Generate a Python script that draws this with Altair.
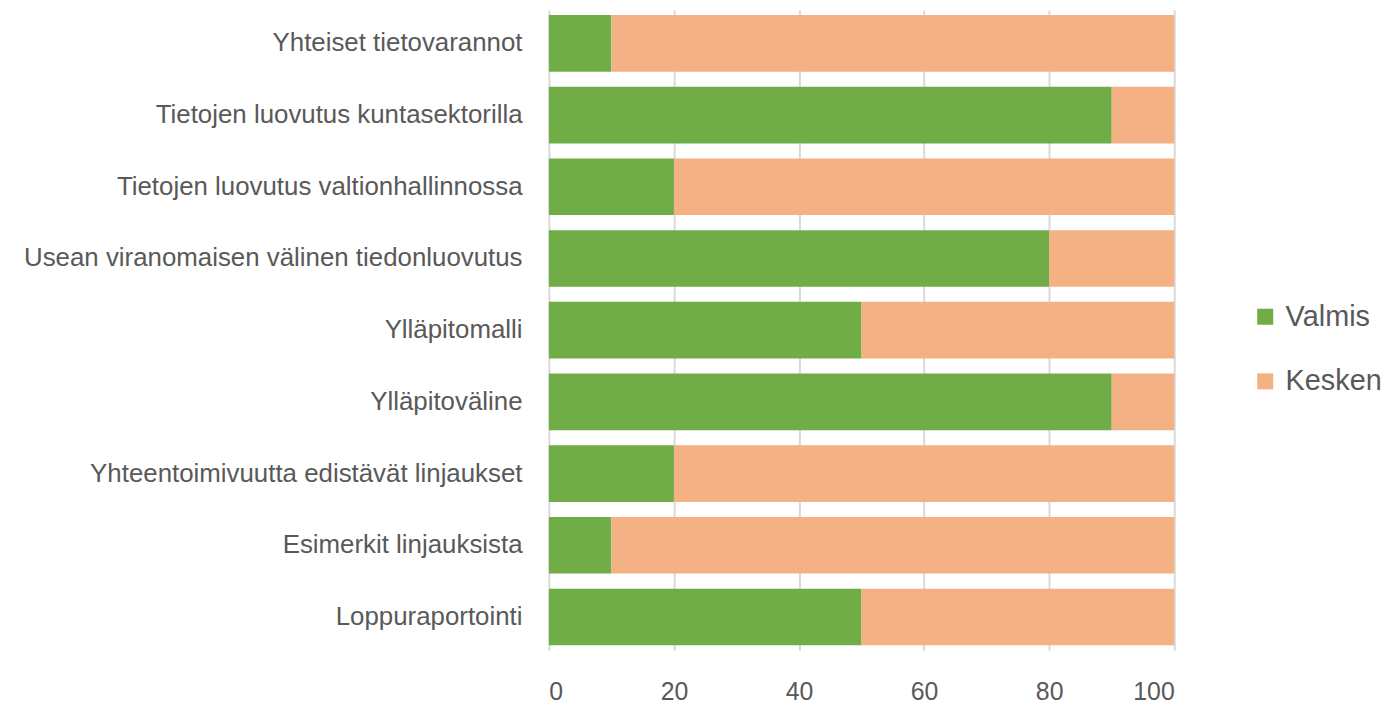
import altair as alt
import pandas as pd

categories = [
    "Yhteiset tietovarannot",
    "Tietojen luovutus kuntasektorilla",
    "Tietojen luovutus valtionhallinnossa",
    "Usean viranomaisen välinen tiedonluovutus",
    "Ylläpitomalli",
    "Ylläpitoväline",
    "Yhteentoimivuutta edistävät linjaukset",
    "Esimerkit linjauksista",
    "Loppuraportointi",
]
valmis = [10, 90, 20, 80, 50, 90, 20, 10, 50]
kesken = [90, 10, 80, 20, 50, 10, 80, 90, 50]
series = ["Valmis", "Kesken"]
colors = ["#70AD47", "#F4B183"]

rows = []
for c, v, k in zip(categories, valmis, kesken):
    rows.append({"cat": c, "series": "Valmis", "value": v, "order": 0})
    rows.append({"cat": c, "series": "Kesken", "value": k, "order": 1})
df = pd.DataFrame(rows)

FONT = "Liberation Sans"

chart = alt.Chart(df).mark_bar(stroke=None).encode(
    y=alt.Y("cat:N", sort=categories, title=None,
            scale=alt.Scale(paddingInner=0.21, paddingOuter=0.07),
            axis=alt.Axis(domain=False, ticks=False, labelFontSize=26, labelColor="#595959",
                          labelFont=FONT, labelPadding=27, labelLimit=600, grid=False)),
    x=alt.X("value:Q", stack="zero", title=None,
            scale=alt.Scale(domain=[0, 100], nice=False),
            axis=alt.Axis(values=[0, 20, 40, 60, 80, 100], domain=False, ticks=False,
                          grid=True, gridColor="#D9D9D9", gridWidth=2,
                          labelFontSize=25, labelColor="#595959", labelFont=FONT,
                          labelPadding=29)),
    color=alt.Color("series:N", sort=series,
                    scale=alt.Scale(domain=series, range=colors),
                    legend=alt.Legend(title=None, orient="none", legendX=706, legendY=294,
                                      symbolType="square", symbolSize=260, symbolStrokeWidth=0,
                                      labelFontSize=29, labelFont=FONT, labelColor="#595959",
                                      rowPadding=35, labelOffset=6)),
    order=alt.Order("order:Q"),
).properties(
    width=629, height=644,
    autosize=alt.AutoSizeParams(type="none"),
    padding={"left": 544, "top": 0, "right": 217, "bottom": 55},
).configure_view(stroke=None)

chart.save("out.html", embed_options={"renderer": "svg", "actions": False})
